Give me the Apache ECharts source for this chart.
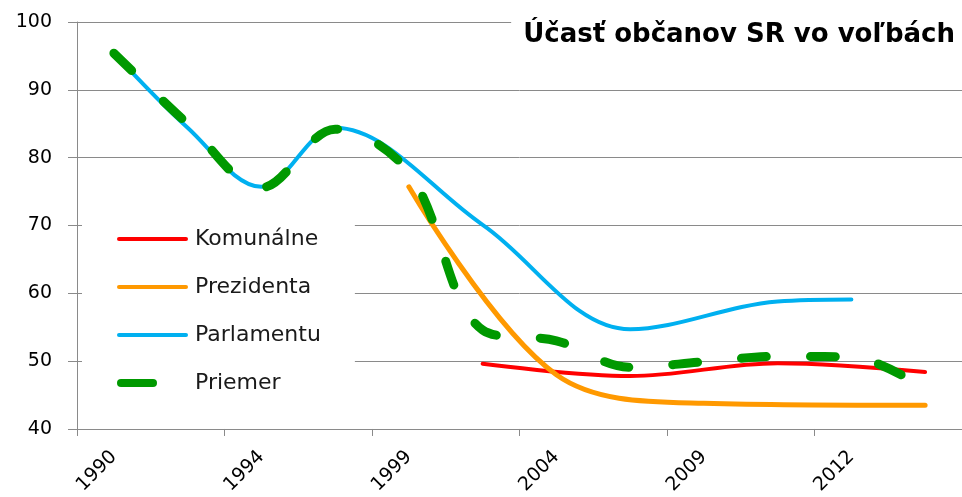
<!DOCTYPE html>
<html>
<head>
<meta charset="utf-8">
<script src="https://cdn.jsdelivr.net/npm/echarts@6/dist/echarts.min.js"></script>
<style>
html,body{margin:0;padding:0;background:#fff;}
#chart{width:962px;height:497px;}
</style>
</head>
<body>
<div id="chart"></div>
<script>
// Categories (election years)
var years = ['1990','1992','1994','1998','1999','2002','2004','2006','2009','2010','2012','2014'];
// Turnout (%) by type of election
var komunalne  = [null, null, null, null, null, 49.6, null, 47.8, null, 49.7, null, 48.4];
var prezidenta = [null, null, null, null, 75.7, null, 48.0, null, 43.8, null, null, 43.5];
var parlamentu = [95.4, 84.4, 75.7, 84.4, null, 70.1, null, 54.7, null, 58.8, 59.1, null];
var priemer    = [95.4, 85.0, 75.6, 84.2, 77.8, 54.6, 53.0, 49.1, 49.9, 50.7, 50.6, 45.9];
var seriesNames = ['Komunálne', 'Prezidenta', 'Parlamentu', 'Priemer'];
var titleText = 'Účasť občanov SR vo voľbách';
var yTicks = {min: 40, max: 100, step: 10};

var FONT = 'DejaVu Sans';
var GRID = '#8a8a8a';
var SMOOTH = 0.35;
var solidIcon = 'path://M0,0M71,9M2,2.5h67a2,2 0 0 1 0,4h-67a2,2 0 0 1 0,-4z';
var dashIcon  = 'path://M0,0M71,9M4,0.5h32a4,4 0 0 1 0,8h-32a4,4 0 0 1 0,-8z';

var chart = echarts.init(document.getElementById('chart'), null, {renderer: 'canvas'});
chart.setOption({
  animation: false,
  backgroundColor: '#ffffff',
  title: {
    text: titleText,
    right: 0,
    top: 16,
    padding: [6, 7, 6, 12],
    backgroundColor: '#ffffff',
    textStyle: {fontFamily: FONT, fontWeight: 'bold', fontSize: 26, color: '#000'}
  },
  legend: {
    orient: 'vertical',
    left: 82,
    top: 215,
    padding: [12, 34, 12, 35],
    backgroundColor: '#ffffff',
    itemWidth: 71,
    itemHeight: 9,
    itemGap: 24,
    selectedMode: false,
    itemStyle: {borderWidth: 0},
    textStyle: {fontFamily: FONT, fontSize: 22, color: '#1a1a1a', lineHeight: 24, padding: [0, 0, 0, 2]},
    data: [
      {name: seriesNames[0], icon: solidIcon},
      {name: seriesNames[1], icon: solidIcon},
      {name: seriesNames[2], icon: solidIcon},
      {name: seriesNames[3], icon: dashIcon}
    ]
  },
  grid: {left: 77, top: 22, width: 895, bottom: 67, containLabel: false},
  xAxis: {
    type: 'category',
    data: years,
    boundaryGap: true,
    axisLine: {lineStyle: {color: GRID, width: 1}},
    axisTick: {show: true, interval: 1, length: 7, lineStyle: {color: GRID}},
    axisLabel: {interval: 1, rotate: 45, margin: 25, fontFamily: FONT, fontSize: 19, color: '#000'},
    splitLine: {show: false}
  },
  yAxis: {
    type: 'value',
    min: yTicks.min,
    max: yTicks.max,
    interval: yTicks.step,
    axisLine: {show: true, lineStyle: {color: GRID, width: 1}},
    axisTick: {show: true, length: 9, lineStyle: {color: GRID}},
    axisLabel: {margin: 25, fontFamily: FONT, fontSize: 19, color: '#000'},
    splitLine: {show: true, lineStyle: {color: GRID, width: 1}}
  },
  series: [
    {name: seriesNames[0], type: 'line', data: komunalne, smooth: SMOOTH, connectNulls: true, showSymbol: false, symbol: 'none',
     color: '#ff0000', lineStyle: {color: '#ff0000', width: 4, cap: 'round'}},
    {name: seriesNames[1], type: 'line', data: prezidenta, smooth: SMOOTH, connectNulls: true, showSymbol: false, symbol: 'none',
     color: '#ff9900', lineStyle: {color: '#ff9900', width: 5, cap: 'round'}},
    {name: seriesNames[2], type: 'line', data: parlamentu, smooth: SMOOTH, connectNulls: true, showSymbol: false, symbol: 'none',
     color: '#00b0f0', lineStyle: {color: '#00b0f0', width: 4, cap: 'round'}},
    {name: seriesNames[3], type: 'line', data: priemer, smooth: SMOOTH, connectNulls: true, showSymbol: false, symbol: 'none',
     color: '#009900', lineStyle: {color: '#009900', width: 9, type: [25, 44], cap: 'round'}}
  ]
});
</script>
</body>
</html>
